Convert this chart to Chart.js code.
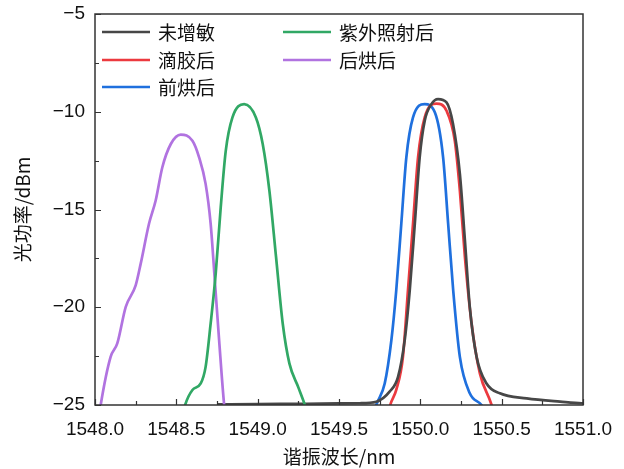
<!DOCTYPE html>
<html><head><meta charset="utf-8">
<script src="https://cdn.jsdelivr.net/npm/chart.js@4.4.1/dist/chart.umd.min.js"></script>
<style>html,body{margin:0;padding:0;background:#fff}#w{width:624px;height:469px}</style>
</head><body><div id="w"><canvas id="c" width="624" height="469"></canvas></div>
<script>
const seriesNames = ["未增敏", "滴胶后", "前烘后", "紫外照射后", "后烘后"];
const seriesColors = ["#474747", "#ec3a3f", "#1f70de", "#31a865", "#b173e0"];

const blackX = [1548.75,1549.0,1549.3,1549.5,1549.627,1549.73,1549.811,1549.863,1549.904,1549.935,1549.966,1549.996,1550.027,1550.068,1550.109,1550.161,1550.201,1550.243,1550.274,1550.304,1550.346,1550.407,1550.489,1550.654,1550.859,1550.993,1551.0];
const blackY = [-24.97,-24.95,-24.94,-24.92,-24.91,-24.83,-24.32,-23.56,-21.68,-19.13,-15.73,-12.33,-10.46,-9.61,-9.35,-9.52,-10.63,-13.18,-16.58,-19.98,-22.54,-23.9,-24.4,-24.66,-24.83,-24.91,-24.91];

const redX = [1549.80,1549.815,1549.852,1549.893,1549.924,1549.955,1549.986,1550.027,1550.099,1550.161,1550.212,1550.243,1550.274,1550.315,1550.366,1550.438,1550.45];
const redY = [-25.6,-25,-24.23,-22.54,-19.13,-15.73,-12.33,-10.29,-9.58,-9.95,-11.48,-14.03,-17.43,-20.83,-23.38,-25,-25.4];

const blueX = [1549.715,1549.729,1549.781,1549.822,1549.852,1549.883,1549.914,1549.955,1550.027,1550.089,1550.14,1550.171,1550.202,1550.243,1550.304,1550.376,1550.39];
const blueY = [-25.4,-25,-23.9,-21.68,-19.13,-15.73,-12.33,-10.29,-9.61,-10.03,-12.33,-15.73,-19.13,-22.54,-24.4,-25,-25.2];

const greenX = [1548.54,1548.554,1548.599,1548.65,1548.68,1548.711,1548.742,1548.773,1548.804,1548.845,1548.917,1548.989,1549.031,1549.072,1549.113,1549.154,1549.195,1549.25,1549.29,1549.30];
const greenY = [-25.5,-25,-24.23,-23.9,-23.05,-20.83,-18.28,-14.88,-11.99,-10.29,-9.61,-10.29,-11.65,-14.03,-17.43,-20.83,-22.87,-24.1,-25,-25.3];

const purpleX = [1548.025,1548.035,1548.096,1548.137,1548.189,1548.25,1548.281,1548.332,1548.373,1548.414,1548.466,1548.527,1548.599,1548.64,1548.68,1548.711,1548.738,1548.763,1548.794,1548.80];
const purpleY = [-25.6,-25,-22.54,-21.85,-19.98,-18.88,-17.77,-15.73,-14.54,-12.84,-11.65,-11.17,-11.48,-12.33,-13.69,-15.73,-18.79,-21.68,-25,-25.4];

const xTicks = [1548.0,1548.5,1549.0,1549.5,1550.0,1550.5,1551.0];
const yTicks = [-25,-20,-15,-10,-5];

const allX = [blackX, redX, blueX, greenX, purpleX];
const allY = [blackY, redY, blueY, greenY, purpleY];
const order = [3,4,0,1,2];
const datasets = order.map(i => ({
  label: seriesNames[i],
  data: allX[i].map((x, k) => ({x: x, y: allY[i][k]})),
  borderColor: seriesColors[i],
  backgroundColor: seriesColors[i],
  borderWidth: 2.7,
  showLine: true,
  pointRadius: 0,
  cubicInterpolationMode: 'monotone',
  fill: false
}));

const FONT = "'Liberation Sans', Arial, sans-serif";
const CJK = "'Noto Sans CJK SC', sans-serif";

const decor = {
  id: 'decor',
  afterDraw(chart) {
    const ctx = chart.ctx, a = chart.chartArea;
    const xs = chart.scales.x, ys = chart.scales.y;
    ctx.save();
    ctx.strokeStyle = '#333';
    ctx.lineWidth = 1.5;
    ctx.strokeRect(a.left, a.top, a.right - a.left, a.bottom - a.top);
    ctx.lineWidth = 1.2;
    ctx.beginPath();
    for (let v = 1548; v <= 1551.0001; v += 0.25) {
      const px = Math.round(xs.getPixelForValue(v)) + 0.5;
      const major = Math.abs(v * 2 - Math.round(v * 2)) < 1e-6;
      ctx.moveTo(px, a.bottom); ctx.lineTo(px, a.bottom - (major ? 6 : 4));
    }
    for (let v = -25; v <= -4.999; v += 2.5) {
      const py = Math.round(ys.getPixelForValue(v)) + 0.5;
      const major = Math.abs(v / 5 - Math.round(v / 5)) < 1e-6;
      ctx.moveTo(a.left, py); ctx.lineTo(a.left + (major ? 6 : 4), py);
    }
    ctx.stroke();
    // legend
    const cols = [[0,1,2],[3,4]];
    const lx = [102, 283], rowY = [32, 60, 87];
    ctx.font = "19px " + CJK;
    ctx.textBaseline = 'middle';
    ctx.textAlign = 'left';
    cols.forEach((col, ci) => col.forEach((si, ri) => {
      const y = rowY[ri];
      ctx.strokeStyle = seriesColors[si];
      ctx.lineWidth = 2.7;
      ctx.beginPath(); ctx.moveTo(lx[ci], y); ctx.lineTo(lx[ci] + 48, y); ctx.stroke();
      ctx.fillStyle = '#111';
      ctx.fillText(seriesNames[si], lx[ci] + 56, y + 1);
    }));
    ctx.restore();
  }
};

new Chart(document.getElementById('c'), {
  type: 'scatter',
  data: { datasets },
  options: {
    responsive: false,
    animation: false,
    devicePixelRatio: 1,
    layout: { padding: { top: 14, right: 41, left: 0, bottom: 0 } },
    plugins: { legend: { display: false }, tooltip: { enabled: false } },
    scales: {
      x: {
        type: 'linear', min: 1548, max: 1551,
        afterBuildTicks: s => { s.ticks = xTicks.map(v => ({value: v})); },
        afterFit: s => { s.height = 64; s.paddingLeft = 0; s.paddingRight = 0; },
        grid: { display: false, drawTicks: false },
        border: { display: false },
        ticks: { color: '#111', font: { family: FONT, size: 19 }, padding: 13, maxRotation: 0,
          callback: v => v.toFixed(1) },
        title: { display: true, text: '谐振波长/nm', color: '#111', font: { family: CJK, size: 19 }, padding: { top: 0, bottom: 1 } }
      },
      y: {
        type: 'linear', min: -25, max: -5,
        afterBuildTicks: s => { s.ticks = yTicks.map(v => ({value: v})); },
        afterFit: s => { s.width = 95; s.paddingTop = 0; s.paddingBottom = 0; },
        grid: { display: false, drawTicks: false },
        border: { display: false },
        ticks: { color: '#111', font: { family: FONT, size: 19 }, padding: 10,
          callback: v => String(v).replace('-', '\u2212') },
        title: { display: true, text: '光功率/dBm', color: '#111', font: { family: CJK, size: 19 }, padding: { top: 11, bottom: 0 } }
      }
    }
  },
  plugins: [decor]
});
</script>
</body></html>
